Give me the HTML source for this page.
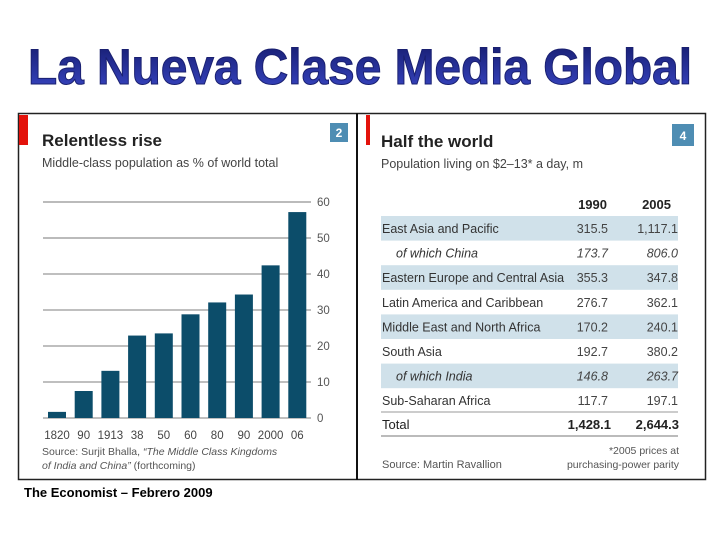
<!DOCTYPE html>
<html><head><meta charset="utf-8"><style>
body{margin:0;width:720px;height:540px;background:#fff;overflow:hidden;font-family:"Liberation Sans",sans-serif}
svg{display:block}
</style></head><body>
<svg width="720" height="540">
<defs><linearGradient id="tg" x1="0" y1="0" x2="0" y2="1"><stop offset="0" stop-color="#141a6a"/><stop offset="1" stop-color="#3a48c8"/></linearGradient></defs>
<text x="28" y="84" textLength="664" lengthAdjust="spacingAndGlyphs" font-family="Liberation Sans" font-weight="bold" font-size="50" fill="url(#tg)" stroke="#1a2070" stroke-width="1">La Nueva Clase Media Global</text>
<rect x="18.5" y="113.5" width="687" height="366" fill="none" stroke="#222" stroke-width="1.5"/>
<line x1="357" y1="113" x2="357" y2="480" stroke="#111" stroke-width="2"/>
<!-- left panel -->
<g id="left">
<rect x="19" y="115" width="9" height="30" fill="#e3120b"/>
<text x="42" y="146" font-size="17" font-weight="bold" fill="#222">Relentless rise</text>
<text x="42" y="167" font-size="12.5" fill="#444">Middle-class population as % of world total</text>
<rect x="330" y="123" width="18" height="19" fill="#4e8db3"/>
<text x="339" y="137" font-size="12" font-weight="bold" fill="#fff" text-anchor="middle">2</text>
<g id="grid"></g><g id="bars"></g><g id="xl"></g>
<text x="42" y="455" font-size="10.5" fill="#555">Source: Surjit Bhalla, <tspan font-style="italic">“The Middle Class Kingdoms</tspan></text>
<text x="42" y="469" font-size="10.5" fill="#555" font-style="italic">of India and China” <tspan font-style="normal">(forthcoming)</tspan></text>
</g>
<!-- right panel -->
<g>
<rect x="366" y="115" width="4" height="30" fill="#e3120b"/>
<text x="381" y="147" font-size="17" font-weight="bold" fill="#222">Half the world</text>
<text x="381" y="168" font-size="12.5" fill="#444">Population living on $2–13* a day, m</text>
<rect x="672" y="124" width="22" height="22" fill="#4e8db3"/>
<text x="683" y="140" font-size="12" font-weight="bold" fill="#fff" text-anchor="middle">4</text>
<text x="607" y="209" font-size="13" font-weight="bold" fill="#222" text-anchor="end">1990</text>
<text x="671" y="209" font-size="13" font-weight="bold" fill="#222" text-anchor="end">2005</text>
<g id="rows"></g>
<line x1="381" y1="412" x2="678" y2="412" stroke="#999"/>
<text x="382" y="429" font-size="13" fill="#222">Total</text>
<text x="611" y="429" font-size="13" font-weight="bold" fill="#222" text-anchor="end">1,428.1</text>
<text x="679" y="429" font-size="13" font-weight="bold" fill="#222" text-anchor="end">2,644.3</text>
<line x1="381" y1="436" x2="678" y2="436" stroke="#bbb" stroke-width="2"/>
<text x="679" y="454" font-size="10.5" fill="#555" text-anchor="end">*2005 prices at</text>
<text x="679" y="468" font-size="10.5" fill="#555" text-anchor="end">purchasing-power parity</text>
<text x="382" y="468" font-size="11" fill="#555">Source: Martin Ravallion</text>
</g>
<text x="24" y="497" font-size="13" font-weight="bold" fill="#000">The Economist – Febrero 2009</text>
</svg>
<script>
const categories=["1820","90","1913","38","50","60","80","90","2000","06"];
const values=[1.7,7.5,13.1,22.9,23.5,28.8,32.1,34.3,42.4,57.2];
const yTicks=[0,10,20,30,40,50,60];
const rowLabels=["East Asia and Pacific","of which China","Eastern Europe and Central Asia","Latin America and Caribbean","Middle East and North Africa","South Asia","of which India","Sub-Saharan Africa"];
const v1990=["315.5","173.7","355.3","276.7","170.2","192.7","146.8","117.7"];
const v2005=["1,117.1","806.0","347.8","362.1","240.1","380.2","263.7","197.1"];
const NS="http://www.w3.org/2000/svg";
function mk(t,a,p){const e=document.createElementNS(NS,t);for(const k in a)e.setAttribute(k,a[k]);p.appendChild(e);return e;}
const y=v=>418-v*(216/60);
const x=i=>48+i*26.7;
const g=document.getElementById('grid');
yTicks.forEach(t=>{
 const l=mk('line',{x1:43,x2:311,y1:y(t),y2:y(t),stroke:t>=50?'#bbb':'#999','stroke-width':t>=50?2:1.3},g);
 
 
 const tx=mk('text',{x:317,y:y(t)+4,'font-size':11.5,fill:'#555'},g);tx.textContent=t;
 
 
});
const b=document.getElementById('bars'),xl=document.getElementById('xl');
values.forEach((v,i)=>{
 const r=mk('rect',{x:x(i),y:y(v),width:18,height:y(0)-y(v),fill:'#0c4d6a'},b);
 
 
 const t=mk('text',{x:x(i)+9,y:439,'font-size':11.5,fill:'#444','text-anchor':'middle'},xl);t.textContent=categories[i];
 
 
});
const rows=document.getElementById('rows');
rowLabels.forEach((lab,i)=>{
 const top=216+i*24.6, sub=lab.startsWith('of which');
 if(i%2==0||i==6){const bg=mk('rect',{x:381,y:top,width:297,height:24.6,fill:'#d0e1ea'},rows);
  
  }
 const st=sub?{'font-style':'italic'}:{};
 const a=mk('text',Object.assign({x:sub?396:382,y:top+17,'font-size':12.5,fill:'#333'},st),rows);a.textContent=lab;
 
 
 const c=mk('text',Object.assign({x:608,y:top+17,'font-size':12.5,fill:'#444','text-anchor':'end'},st),rows);c.textContent=v1990[i];
 
 
 const d=mk('text',Object.assign({x:678,y:top+17,'font-size':12.5,fill:'#444','text-anchor':'end'},st),rows);d.textContent=v2005[i];
 
 
});
</script>
</body></html>
